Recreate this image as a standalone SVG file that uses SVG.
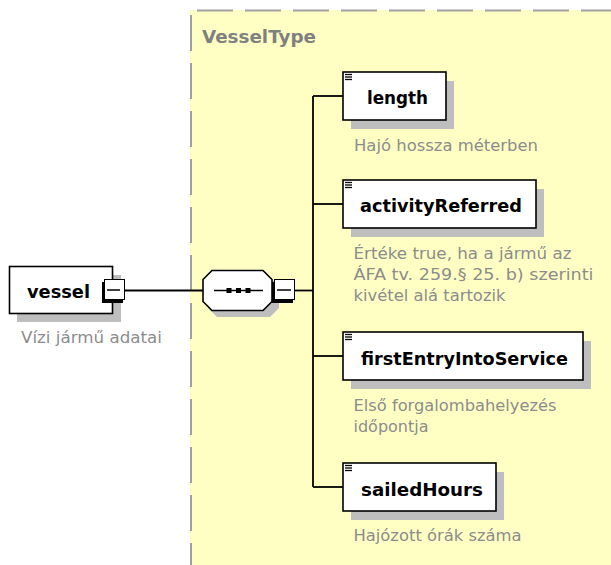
<svg xmlns="http://www.w3.org/2000/svg" width="611" height="565" viewBox="0 0 611 565">
  <style>
    .name { font-family: "DejaVu Sans", Verdana, sans-serif; font-weight: bold; font-size: 18px; fill: #000; }
    .desc { font-family: "DejaVu Sans", Verdana, sans-serif; font-size: 16.5px; fill: #8c8c8c; }
    .title { font-family: "DejaVu Sans", Verdana, sans-serif; font-weight: bold; font-size: 18px; fill: #808080; }
    .box { fill: #fff; stroke: #000; stroke-width: 1.6; }
    .shadow { fill: #bebebe; }
    .conn { fill: none; stroke: #000; stroke-width: 1.8; }
    .icon { stroke: #000; stroke-width: 1.3; }
    .mshadow { fill: #000; }
    .mbox { fill: #fff; stroke: #000; stroke-width: 1; }
    .minus { stroke: #000; stroke-width: 1.5; }
    .frame { fill: none; stroke: #a0a0a0; stroke-width: 2; stroke-dasharray: 36 12; }
  </style>
  <defs>
    <g id="elemIcon">
      <line class="icon" x1="0" y1="0.5" x2="7" y2="0.5"/>
      <line class="icon" x1="0" y1="3" x2="7" y2="3"/>
      <line class="icon" x1="0" y1="5.5" x2="7" y2="5.5"/>
    </g>
  </defs>
  <rect x="0" y="0" width="611" height="565" fill="#fff"/>

  <g id="VesselType">
    <rect x="190" y="10" width="421" height="555" fill="#ffffc4"/>
    <path class="frame" d="M197,10.5 H611"/>
    <path class="frame" d="M191,15 V565"/>
    <text class="title" x="202" y="43" textLength="114" lengthAdjust="spacingAndGlyphs">VesselType</text>
  </g>

  <g id="connectors">
    <line class="conn" x1="125" y1="290.5" x2="203" y2="290.5"/>
    <line class="conn" x1="295" y1="290.5" x2="313" y2="290.5"/>
    <line class="conn" x1="313" y1="96" x2="313" y2="487"/>
    <line class="conn" x1="313" y1="96" x2="343" y2="96"/>
    <line class="conn" x1="313" y1="204" x2="343" y2="204"/>
    <line class="conn" x1="313" y1="356" x2="343" y2="356"/>
    <line class="conn" x1="313" y1="487" x2="343" y2="487"/>
  </g>

  <g id="vessel">
    <rect class="shadow" x="17" y="275" width="104" height="47"/>
    <rect class="box" x="9.5" y="266.5" width="103" height="47"/>
    <text class="name" x="27" y="298" textLength="63" lengthAdjust="spacingAndGlyphs">vessel</text>
    <rect class="mshadow" x="102" y="282" width="21" height="21"/>
    <rect class="mbox" x="104.5" y="279.5" width="20" height="20"/>
    <line class="minus" x1="107" y1="290" x2="120" y2="290"/>
    <text class="desc" x="21" y="343" textLength="141" lengthAdjust="spacingAndGlyphs">Vízi jármű adatai</text>
  </g>

  <g id="sequence">
    <path class="shadow" d="M217,277 H270 L279,286 V308 L270,317 H217 L208,308 V286 Z"/>
    <path fill="#fff" stroke="#000" stroke-width="1.6" d="M212,270.5 H263 L272,279.5 V301.5 L263,310.5 H212 L203,301.5 V279.5 Z"/>
    <line x1="214" y1="290.5" x2="263" y2="290.5" stroke="#000" stroke-width="1.6"/>
    <rect x="226.5" y="288" width="5" height="5" fill="#000"/>
    <rect x="236" y="288" width="5" height="5" fill="#000"/>
    <rect x="245.5" y="288" width="5" height="5" fill="#000"/>
    <rect class="mshadow" x="272" y="282" width="21" height="21"/>
    <rect class="mbox" x="274.5" y="279.5" width="20" height="20"/>
    <line class="minus" x1="277" y1="290" x2="291" y2="290"/>
  </g>

  <g id="length">
    <rect class="shadow" x="351" y="81" width="103" height="48"/>
    <rect class="box" x="343" y="72" width="103" height="48"/>
    <use href="#elemIcon" x="345" y="74"/>
    <text class="name" x="367" y="104" textLength="61" lengthAdjust="spacingAndGlyphs">length</text>
    <text class="desc" x="354" y="151" textLength="184" lengthAdjust="spacingAndGlyphs">Hajó hossza méterben</text>
  </g>

  <g id="activityReferred">
    <rect class="shadow" x="351" y="189" width="193" height="48"/>
    <rect class="box" x="343" y="180" width="193" height="48"/>
    <use href="#elemIcon" x="345" y="182"/>
    <text class="name" x="360" y="212" textLength="162" lengthAdjust="spacingAndGlyphs">activityReferred</text>
    <text class="desc" x="353.5" y="259" textLength="218" lengthAdjust="spacingAndGlyphs">Értéke true, ha a jármű az</text>
    <text class="desc" x="353.5" y="280" textLength="240" lengthAdjust="spacingAndGlyphs">ÁFA tv. 259.§ 25. b) szerinti</text>
    <text class="desc" x="353.5" y="301" textLength="152" lengthAdjust="spacingAndGlyphs">kivétel alá tartozik</text>
  </g>

  <g id="firstEntryIntoService">
    <rect class="shadow" x="351" y="341" width="240" height="48"/>
    <rect class="box" x="343" y="332" width="240" height="48"/>
    <use href="#elemIcon" x="345" y="334"/>
    <text class="name" x="361" y="365" textLength="207" lengthAdjust="spacingAndGlyphs">firstEntryIntoService</text>
    <text class="desc" x="353.5" y="410.5" textLength="203" lengthAdjust="spacingAndGlyphs">Első forgalombahelyezés</text>
    <text class="desc" x="353.5" y="431.5" textLength="75" lengthAdjust="spacingAndGlyphs">időpontja</text>
  </g>

  <g id="sailedHours">
    <rect class="shadow" x="351" y="472" width="153" height="48"/>
    <rect class="box" x="343" y="463" width="153" height="48"/>
    <use href="#elemIcon" x="345" y="465"/>
    <text class="name" x="361" y="496" textLength="122" lengthAdjust="spacingAndGlyphs">sailedHours</text>
    <text class="desc" x="353.5" y="541" textLength="168" lengthAdjust="spacingAndGlyphs">Hajózott órák száma</text>
  </g>
</svg>
